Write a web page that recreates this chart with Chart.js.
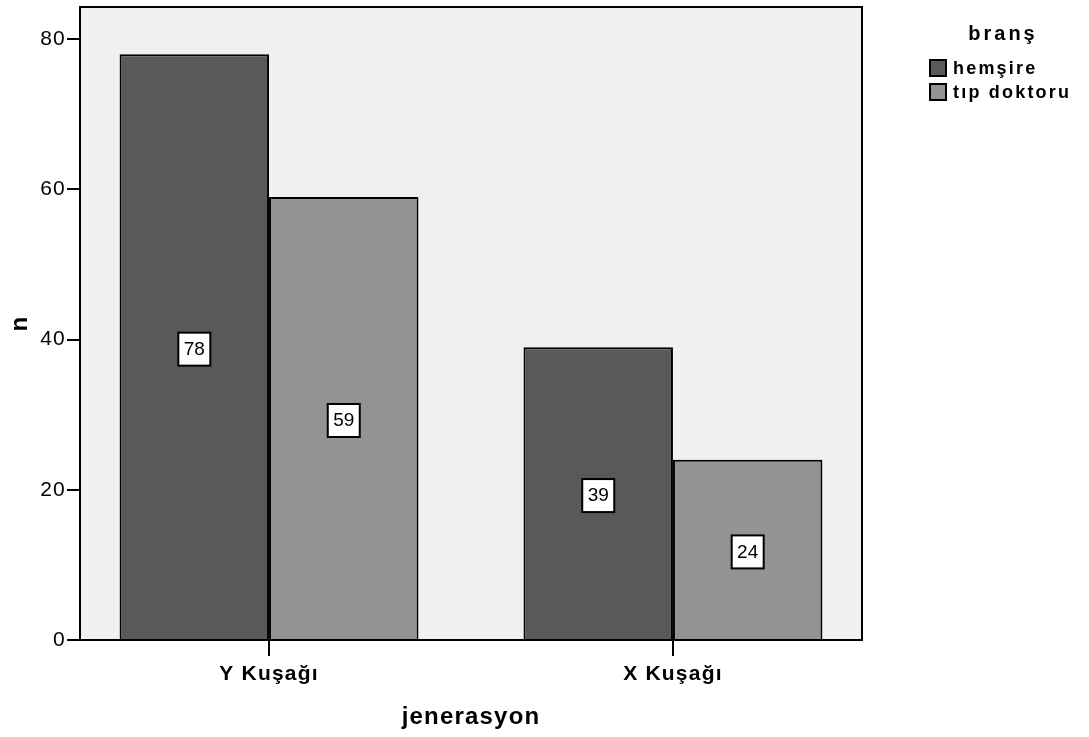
<!DOCTYPE html>
<html>
<head>
<meta charset="utf-8">
<script src="https://cdn.jsdelivr.net/npm/chart.js@4/dist/chart.umd.min.js"></script>
<style>
  html, body { margin: 0; padding: 0; background: #fff; }
  #wrap { width: 1089px; height: 737px; }
</style>
</head>
<body>
<div id="wrap"><canvas id="chart" width="1089" height="737"></canvas></div>
<script>
const categories = ["Y Kuşağı", "X Kuşağı"];
const seriesNames = ["hemşire", "tıp doktoru"];
const hemsire = [78, 39];
const tipDoktoru = [59, 24];
const yTicks = [0, 20, 40, 60, 80];
const seriesColors = ["#595959", "#939393"];

const FONT = "Arial, 'Liberation Sans', sans-serif";

// plot background + frame (also sets a little letter spacing for the axis text)
const frame = {
  id: "frame",
  beforeDraw(chart) {
    chart.ctx.letterSpacing = "1.2px";
  },
  beforeDatasetsDraw(chart) {
    const { ctx, chartArea: a } = chart;
    ctx.letterSpacing = "0px";
    ctx.save();
    ctx.fillStyle = "#f0f0f0";
    ctx.fillRect(a.left, a.top, a.right - a.left, a.bottom - a.top);
    ctx.restore();
  },
  afterDatasetsDraw(chart) {
    const { ctx, chartArea: a } = chart;
    ctx.save();
    ctx.strokeStyle = "#000";
    ctx.lineWidth = 2;
    ctx.strokeRect(a.left, a.top, a.right - a.left, a.bottom - a.top);
    ctx.restore();
  },
};

// value boxes in the middle of each bar
const valueBoxes = {
  id: "valueBoxes",
  afterDraw(chart) {
    const ctx = chart.ctx;
    ctx.save();
    ctx.letterSpacing = "0px";
    ctx.font = "19px " + FONT;
    ctx.textAlign = "center";
    ctx.textBaseline = "middle";
    chart.data.datasets.forEach((ds, di) => {
      chart.getDatasetMeta(di).data.forEach((bar, i) => {
        const cx = bar.x;
        const cy = (bar.y + bar.base) / 2 + 2;
        ctx.fillStyle = "#fff";
        ctx.fillRect(cx - 16, cy - 16, 32, 33);
        ctx.strokeStyle = "#000";
        ctx.lineWidth = 2;
        ctx.strokeRect(cx - 16, cy - 16, 32, 33);
        ctx.fillStyle = "#000";
        ctx.fillText(String(ds.data[i].y), cx, cy + 1);
      });
    });
    ctx.restore();
  },
};

// SPSS style legend on the right
const sideLegend = {
  id: "sideLegend",
  afterDraw(chart) {
    const ctx = chart.ctx;
    ctx.save();
    ctx.fillStyle = "#000";
    ctx.letterSpacing = "3px";
    ctx.font = "bold 20px " + FONT;
    ctx.textAlign = "center";
    ctx.textBaseline = "middle";
    ctx.fillText("branş", 1003, 34);
    ctx.letterSpacing = "2.2px";
    ctx.font = "bold 18px " + FONT;
    ctx.textAlign = "left";
    chart.data.datasets.forEach((ds, i) => {
      const y = 60 + i * 24;
      ctx.fillStyle = ds.backgroundColor;
      ctx.fillRect(930, y, 16, 16);
      ctx.strokeStyle = "#000";
      ctx.lineWidth = 2;
      ctx.strokeRect(930, y, 16, 16);
      ctx.fillStyle = "#000";
      ctx.fillText(ds.label, 953, y + 9);
    });
    ctx.restore();
  },
};

const datasets = [hemsire, tipDoktoru].map((vals, s) => ({
  label: seriesNames[s],
  data: vals.map((v, i) => ({ x: i, y: v })),
  backgroundColor: seriesColors[s],
  borderColor: "#000",
  borderWidth: 2,
  categoryPercentage: 0.74,
  barPercentage: 1.0,
}));

new Chart(document.getElementById("chart"), {
  type: "bar",
  data: { datasets },
  options: {
    responsive: false,
    animation: false,
    layout: { padding: { top: 7, right: 227, bottom: 0, left: 0 } },
    plugins: {
      legend: { display: false },
      tooltip: { enabled: false },
    },
    scales: {
      x: {
        type: "linear",
        offset: false,
        min: -0.468,
        max: 1.468,
        afterBuildTicks: (scale) => {
          scale.ticks = categories.map((c, i) => ({ value: i }));
        },
        afterFit: (scale) => {
          scale.height = 97;
          scale.paddingLeft = 0;
          scale.paddingRight = 0;
        },
        grid: {
          offset: false,
          drawOnChartArea: false,
          tickLength: 16,
          color: "#000",
          lineWidth: 2,
        },
        border: { display: true, color: "#000", width: 2 },
        ticks: {
          autoSkip: false,
          maxRotation: 0,
          padding: 6,
          color: "#000",
          font: { family: FONT, size: 21, weight: "bold" },
          callback: (v) => categories[v],
        },
        title: {
          display: true,
          text: "jenerasyon",
          color: "#000",
          font: { family: FONT, size: 24, weight: "bold" },
          padding: { top: 4, bottom: 5 },
        },
      },
      y: {
        min: 0,
        max: 84.3,
        afterBuildTicks: (scale) => {
          scale.ticks = yTicks.map((v) => ({ value: v }));
        },
        afterFit: (scale) => {
          scale.width = 80;
          scale.paddingTop = 0;
          scale.paddingBottom = 0;
        },
        grid: {
          drawOnChartArea: false,
          tickLength: 13,
          color: "#000",
          lineWidth: 2,
        },
        border: { display: true, color: "#000", width: 2 },
        ticks: {
          padding: 1,
          color: "#000",
          font: { family: FONT, size: 21 },
        },
        title: {
          display: true,
          text: "n",
          color: "#000",
          font: { family: FONT, size: 24, weight: "bold" },
          padding: { top: 6, bottom: 0 },
        },
      },
    },
  },
  plugins: [frame, valueBoxes, sideLegend],
});
</script>
</body>
</html>
